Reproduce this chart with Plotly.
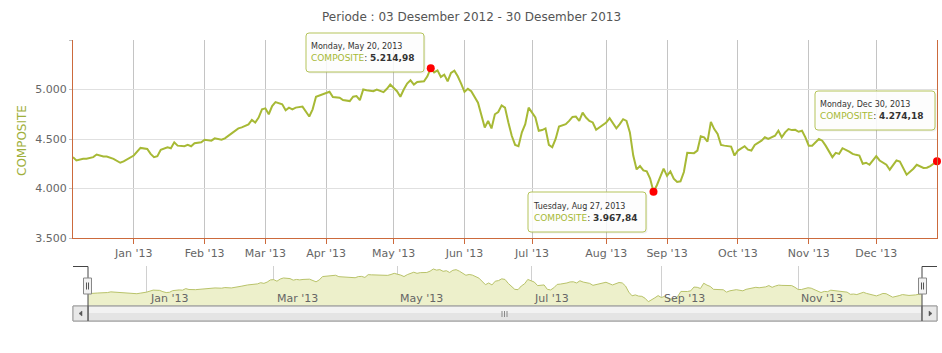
import datetime as dt
import plotly.graph_objects as go

# ---------------- data ----------------
DATES = [
    "2012-12-03","2012-12-04","2012-12-06","2012-12-07","2012-12-11","2012-12-12","2012-12-14","2012-12-17","2012-12-19","2012-12-21","2012-12-24","2012-12-27",
    "2013-01-02","2013-01-04","2013-01-08","2013-01-09","2013-01-10","2013-01-11","2013-01-14","2013-01-16","2013-01-17","2013-01-18","2013-01-21","2013-01-23","2013-01-25","2013-01-28","2013-01-29","2013-01-31",
    "2013-02-01","2013-02-05","2013-02-06","2013-02-08","2013-02-12","2013-02-14","2013-02-18","2013-02-19","2013-02-20","2013-02-22","2013-02-25","2013-02-26","2013-02-27","2013-02-28",
    "2013-03-01","2013-03-04","2013-03-05","2013-03-06","2013-03-08","2013-03-11","2013-03-13","2013-03-14","2013-03-15","2013-03-19","2013-03-21","2013-03-22","2013-03-26","2013-03-27","2013-03-28",
    "2013-04-02","2013-04-03","2013-04-05","2013-04-08","2013-04-10","2013-04-11","2013-04-12","2013-04-15","2013-04-16","2013-04-18","2013-04-22","2013-04-23","2013-04-24","2013-04-26","2013-04-29","2013-04-30",
    "2013-05-02","2013-05-03","2013-05-06","2013-05-07","2013-05-08","2013-05-13","2013-05-14","2013-05-16","2013-05-17","2013-05-20","2013-05-21","2013-05-22","2013-05-23","2013-05-24","2013-05-27","2013-05-28","2013-05-29","2013-05-30","2013-05-31",
    "2013-06-03","2013-06-04","2013-06-05","2013-06-07","2013-06-10","2013-06-11","2013-06-12","2013-06-13","2013-06-14","2013-06-17","2013-06-18","2013-06-19","2013-06-20","2013-06-21","2013-06-24","2013-06-25","2013-06-26","2013-06-27","2013-06-28",
    "2013-07-01","2013-07-02","2013-07-03","2013-07-04","2013-07-05","2013-07-08","2013-07-09","2013-07-10","2013-07-11","2013-07-12","2013-07-15","2013-07-16","2013-07-17","2013-07-18","2013-07-19","2013-07-22","2013-07-23","2013-07-24","2013-07-25","2013-07-26","2013-07-29","2013-07-31",
    "2013-08-01","2013-08-02","2013-08-12","2013-08-13","2013-08-14","2013-08-15","2013-08-16","2013-08-19","2013-08-20","2013-08-21","2013-08-22","2013-08-23","2013-08-26","2013-08-27","2013-08-28","2013-08-29","2013-08-30",
    "2013-09-02","2013-09-03","2013-09-04","2013-09-05","2013-09-06","2013-09-09","2013-09-10","2013-09-12","2013-09-13","2013-09-16","2013-09-17","2013-09-18","2013-09-19","2013-09-20","2013-09-23","2013-09-24","2013-09-25","2013-09-27","2013-09-30",
    "2013-10-01","2013-10-03","2013-10-04","2013-10-07","2013-10-08","2013-10-10","2013-10-11","2013-10-16","2013-10-18","2013-10-21","2013-10-22","2013-10-23","2013-10-24","2013-10-25","2013-10-28","2013-10-29","2013-10-30","2013-10-31",
    "2013-11-01","2013-11-04","2013-11-06","2013-11-07","2013-11-08","2013-11-11","2013-11-13","2013-11-14","2013-11-15","2013-11-18","2013-11-20","2013-11-21","2013-11-22","2013-11-25","2013-11-26","2013-11-27","2013-11-28",
    "2013-12-02","2013-12-03","2013-12-05","2013-12-06","2013-12-09","2013-12-10","2013-12-11","2013-12-12","2013-12-13","2013-12-17","2013-12-18","2013-12-20","2013-12-23","2013-12-24","2013-12-30",
]
COMPOSITE = [
    4317,4283,4300,4300,4317,4343,4323,4323,4300,4260,4273,4293,
    4333,4410,4400,4350,4317,4327,4390,4417,4407,4467,4433,4427,4440,4427,4457,4467,
    4493,4483,4507,4493,4507,4557,4607,4617,4633,4647,4693,4667,4717,4800,
    4810,4750,4833,4873,4850,4790,4817,4800,4817,4827,4727,4800,4927,4940,4950,
    4977,4923,4917,4893,4883,4927,4933,4893,5000,4993,4983,5000,4983,4973,5007,5050,
    4983,4927,5000,5060,5093,5050,5077,5083,5133,5214.98,5173,5193,5127,5150,5083,5167,5190,5133,5060,
    4977,5007,4983,4867,4750,4617,4683,4607,4750,4773,4840,4817,4667,4533,4440,4427,4567,4650,4817,
    4767,4717,4583,4590,4607,4440,4417,4500,4627,4640,4650,4683,4723,4727,4683,4767,4717,4683,4667,4593,4617,4640,
    4667,4710,4607,4650,4700,4683,4567,4333,4193,4227,4183,4173,4100,3967.84,4033,4117,4200,
    4127,4173,4100,4067,4073,4167,4360,4357,4383,4527,4517,4473,4673,4600,4550,4440,4433,4423,4333,
    4383,4427,4393,4383,4440,4483,4517,4500,4533,4583,4517,4567,4600,4590,4593,4573,4583,4517,
    4433,4433,4467,4500,4483,4433,4317,4360,4350,4407,4373,4350,4340,4333,4250,4260,4240,
    4327,4283,4240,4190,4233,4283,4273,4200,4140,4200,4240,4207,4210,4227,4274.18,
]
# weekdays without a point on the ordinal (trading-day) axis
NON_TRADING = [
    "2012-12-25","2012-12-26","2012-12-31","2013-01-01","2013-01-24","2013-02-11",
    "2013-02-21","2013-03-12","2013-03-25","2013-03-29","2013-04-17","2013-04-25",
    "2013-05-09","2013-05-10","2013-07-30","2013-08-06","2013-08-07","2013-08-08",
    "2013-08-09","2013-10-14","2013-10-15","2013-11-05","2013-12-25","2013-12-26",
]
MAIN_TICKS = ["2013-01-02","2013-02-01","2013-03-01","2013-04-01","2013-05-01","2013-06-03",
              "2013-07-01","2013-08-01","2013-09-02","2013-10-01","2013-11-01","2013-12-02"]
MAIN_TICK_TEXT = ["Jan '13","Feb '13","Mar '13","Apr '13","May '13","Jun '13",
                  "Jul '13","Aug '13","Sep '13","Oct '13","Nov '13","Dec '13"]
NAV_TICKS = ["2013-01-02","2013-03-01","2013-05-01","2013-07-01","2013-09-02","2013-11-01"]
NAV_TICK_TEXT = ["Jan '13","Mar '13","May '13","Jul '13","Sep '13","Nov '13"]
Y_TICKS = [3500, 4000, 4500, 5000, 5500]
Y_TICK_TEXT = ["3.500", "4.000", "4.500", "5.000", ""]
HIGHLIGHT_DATES = ["2013-05-20", "2013-08-27", "2013-12-30"]
TITLE = "Periode : 03 Desember 2012 - 30 Desember 2013"
SERIES = "COMPOSITE"

# ---------------- styling ----------------
W, H = 942, 353
OLIVE = "#a7b935"
ORANGE = "#cc6a3c"
FONT = "DejaVu Sans"


def px(x):
    return x / W


def py(y):
    return 1 - y / H


breaks = [dict(bounds=["sat", "mon"]), dict(values=NON_TRADING)]
x_range = [DATES[0], DATES[-1]]

hl_vals = [COMPOSITE[DATES.index(d)] for d in HIGHLIGHT_DATES]

fig = go.Figure()
fig.add_trace(go.Scatter(x=DATES, y=COMPOSITE, mode="lines",
                         line=dict(color=OLIVE, width=2), xaxis="x", yaxis="y",
                         hoverinfo="skip"))
fig.add_trace(go.Scatter(x=HIGHLIGHT_DATES, y=hl_vals, mode="markers",
                         marker=dict(color="#ff0000", size=8), cliponaxis=False,
                         xaxis="x", yaxis="y", hoverinfo="skip"))
fig.add_trace(go.Scatter(x=DATES, y=COMPOSITE, mode="lines", fill="tozeroy",
                         fillcolor="#edf0cb", line=dict(color="#b9c36a", width=1),
                         xaxis="x2", yaxis="y2", hoverinfo="skip"))

shapes = []


def line(x0, y0, x1, y1, color="#555", width=1):
    shapes.append(dict(type="line", xref="paper", yref="paper",
                       x0=px(x0), y0=py(y0), x1=px(x1), y1=py(y1),
                       line=dict(color=color, width=width), layer="above"))


def rect(x0, y0, x1, y1, fill, color="#999", width=1):
    shapes.append(dict(type="rect", xref="paper", yref="paper",
                       x0=px(x0), y0=py(y0), x1=px(x1), y1=py(y1),
                       fillcolor=fill, line=dict(color=color, width=width), layer="above"))


def rrect(x0, y0, x1, y1, r, fill, color, width=1):
    pts = [
        f"M {px(x0 + r)},{py(y0)}", f"L {px(x1 - r)},{py(y0)}",
        f"Q {px(x1)},{py(y0)} {px(x1)},{py(y0 + r)}", f"L {px(x1)},{py(y1 - r)}",
        f"Q {px(x1)},{py(y1)} {px(x1 - r)},{py(y1)}", f"L {px(x0 + r)},{py(y1)}",
        f"Q {px(x0)},{py(y1)} {px(x0)},{py(y1 - r)}", f"L {px(x0)},{py(y0 + r)}",
        f"Q {px(x0)},{py(y0)} {px(x0 + r)},{py(y0)}", "Z",
    ]
    shapes.append(dict(type="path", xref="paper", yref="paper", path=" ".join(pts),
                       fillcolor=fill, line=dict(color=color, width=width), layer="above"))


def tri(points, fill="#555"):
    path = "M " + " L ".join(f"{px(a)},{py(b)}" for a, b in points) + " Z"
    shapes.append(dict(type="path", xref="paper", yref="paper", path=path,
                       fillcolor=fill, line=dict(color=fill, width=0.5), layer="above"))


# scrollbar
rect(73, 306, 937, 321, "#eeeeee", "#aaaaaa")
rect(88, 306, 922, 321, "#e4e4e4", "#999999")
rect(89, 307, 921, 313, "#f2f2f2", "rgba(0,0,0,0)", 0)
rect(73, 306, 88, 321, "#e8e8e8", "#999999")
rect(922, 306, 937, 321, "#e8e8e8", "#999999")
tri([(82, 311), (79, 313.5), (82, 316)])
tri([(929, 311), (932, 313.5), (929, 316)])
for gx in (502, 504.5, 507):
    line(gx, 311, gx, 317, "#888888")
# navigator outline
line(73, 266.5, 88, 266.5, "#444")
line(88, 266.5, 88, 321, "#444")
line(922, 266.5, 922, 321, "#444")
line(922, 266.5, 937, 266.5, "#444")
# handles
for cx in (87.5, 922.5):
    rect(cx - 4, 278, cx + 4, 294, "#f2f2f2", "#888888")
    line(cx - 1, 282.5, cx - 1, 289.5, "#555")
    line(cx + 1, 282.5, cx + 1, 289.5, "#555")

annotations = [
    dict(text=TITLE, x=0.5, y=py(17), xref="paper", yref="paper", showarrow=False,
         xanchor="center", yanchor="middle", font=dict(size=12, color="#555555", family=FONT)),
    dict(text=SERIES, x=px(22), y=py(141), xref="paper", yref="paper", showarrow=False,
         textangle=-90, xanchor="center", yanchor="middle",
         font=dict(size=12, color="#9fb03c", family=FONT)),
]
for d, t in zip(NAV_TICKS, NAV_TICK_TEXT):
    annotations.append(dict(text=t, x=d, xref="x2", y=py(298), yref="paper", showarrow=False,
                            xanchor="left", yanchor="middle", xshift=1,
                            font=dict(size=11, color="#666666", family=FONT)))

# tooltip boxes (left, top, right, bottom) in pixels
TIP_BOXES = [(306, 33, 424, 72), (528, 192, 646, 232), (815, 91, 935, 130)]


def fmt(v):
    s = f"{v:,.2f}"
    return s.replace(",", "X").replace(".", ",").replace("X", ".")


for d, v, (x0, y0, x1, y1) in zip(HIGHLIGHT_DATES, hl_vals, TIP_BOXES):
    rrect(x0 + 1.5, y0 + 1.5, x1 + 1.5, y1 + 1.5, 3, "rgba(0,0,0,0.06)", "rgba(0,0,0,0)", 0)
    rrect(x0, y0, x1, y1, 3, "rgba(255,255,255,0.85)", "#b4c35a", 1)
    head = dt.datetime.strptime(d, "%Y-%m-%d").strftime("%A, %b %d, %Y")
    txt = (f"<span style='font-size:8px;color:#333333'>{head}</span><br>"
           f"<span style='color:{OLIVE}'>{SERIES}</span>: <b>{fmt(v)}</b>")
    annotations.append(dict(text=txt, x=px(x0 + 5), y=py((y0 + y1) / 2), xref="paper", yref="paper",
                            showarrow=False, xanchor="left", yanchor="middle",
                            align="left", borderpad=0, borderwidth=0,
                            font=dict(size=9, color="#333333", family=FONT)))

fig.update_layout(
    width=W, height=H, margin=dict(l=0, r=0, t=0, b=0),
    paper_bgcolor="white", plot_bgcolor="white",
    showlegend=False, separators=",.", hovermode=False,
    font=dict(family=FONT, color="#666666"),
    xaxis=dict(domain=[px(73), px(937)], anchor="y", type="date", range=x_range,
               rangebreaks=breaks, tickmode="array", tickvals=MAIN_TICKS, ticktext=MAIN_TICK_TEXT,
               showgrid=True, gridcolor="#c4c4c4", gridwidth=1,
               showline=True, linecolor=ORANGE, linewidth=1,
               ticks="outside", ticklen=5, tickcolor=ORANGE,
               tickfont=dict(size=11, color="#666666", family=FONT),
               zeroline=False, automargin=False, fixedrange=True),
    yaxis=dict(domain=[py(238), py(40)], anchor="x", range=[3500, 5500],
               tickmode="array", tickvals=Y_TICKS, ticktext=Y_TICK_TEXT,
               showgrid=True, gridcolor="#e0e0e0", gridwidth=1,
               showline=True, linecolor=ORANGE, linewidth=1, mirror=True,
               ticks="outside", ticklen=3, tickcolor="#c0c0c0",
               tickfont=dict(size=11, color="#666666", family=FONT),
               zeroline=False, automargin=False, fixedrange=True),
    xaxis2=dict(domain=[px(88), px(922)], anchor="y2", type="date", range=x_range,
                rangebreaks=breaks, tickmode="array", tickvals=NAV_TICKS,
                showticklabels=False, ticks="", showgrid=True, gridcolor="#d0d0d0",
                showline=False, zeroline=False, automargin=False, fixedrange=True),
    yaxis2=dict(domain=[py(306), py(266)], anchor="x2", range=[3804, 5330],
                visible=False, showgrid=False, zeroline=False, fixedrange=True),
    shapes=shapes, annotations=annotations,
)

fig.write_html("out.html")
